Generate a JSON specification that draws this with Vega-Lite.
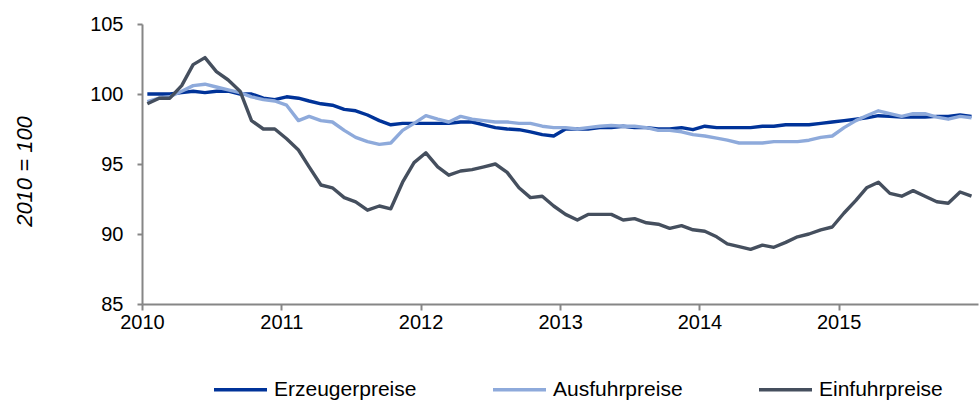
{
"$schema": "https://vega.github.io/schema/vega-lite/v6.json",
"width": 836, "height": 280,
"autosize": {"type": "none"},
"padding": {"left": 142, "top": 24, "right": 1, "bottom": 96},
"background": "white",
"config": {"view": {"stroke": null}, "font": "Liberation Sans"},
"datasets": {
"src": [
{"date":"2010-01-15","series":"Erzeugerpreise","value":100.0},{"date":"2010-02-15","series":"Erzeugerpreise","value":100.0},{"date":"2010-03-15","series":"Erzeugerpreise","value":100.0},{"date":"2010-04-15","series":"Erzeugerpreise","value":100.1},{"date":"2010-05-15","series":"Erzeugerpreise","value":100.2},{"date":"2010-06-15","series":"Erzeugerpreise","value":100.1},{"date":"2010-07-15","series":"Erzeugerpreise","value":100.2},{"date":"2010-08-15","series":"Erzeugerpreise","value":100.2},{"date":"2010-09-15","series":"Erzeugerpreise","value":100.0},{"date":"2010-10-15","series":"Erzeugerpreise","value":100.0},{"date":"2010-11-15","series":"Erzeugerpreise","value":99.7},{"date":"2010-12-15","series":"Erzeugerpreise","value":99.6},
{"date":"2011-01-15","series":"Erzeugerpreise","value":99.8},{"date":"2011-02-15","series":"Erzeugerpreise","value":99.7},{"date":"2011-03-15","series":"Erzeugerpreise","value":99.5},{"date":"2011-04-15","series":"Erzeugerpreise","value":99.3},{"date":"2011-05-15","series":"Erzeugerpreise","value":99.2},{"date":"2011-06-15","series":"Erzeugerpreise","value":98.9},{"date":"2011-07-15","series":"Erzeugerpreise","value":98.8},{"date":"2011-08-15","series":"Erzeugerpreise","value":98.5},{"date":"2011-09-15","series":"Erzeugerpreise","value":98.1},{"date":"2011-10-15","series":"Erzeugerpreise","value":97.8},{"date":"2011-11-15","series":"Erzeugerpreise","value":97.9},{"date":"2011-12-15","series":"Erzeugerpreise","value":97.9},
{"date":"2012-01-15","series":"Erzeugerpreise","value":97.9},{"date":"2012-02-15","series":"Erzeugerpreise","value":97.9},{"date":"2012-03-15","series":"Erzeugerpreise","value":97.9},{"date":"2012-04-15","series":"Erzeugerpreise","value":98.0},{"date":"2012-05-15","series":"Erzeugerpreise","value":98.0},{"date":"2012-06-15","series":"Erzeugerpreise","value":97.8},{"date":"2012-07-15","series":"Erzeugerpreise","value":97.6},{"date":"2012-08-15","series":"Erzeugerpreise","value":97.5},{"date":"2012-09-15","series":"Erzeugerpreise","value":97.45},{"date":"2012-10-15","series":"Erzeugerpreise","value":97.3},{"date":"2012-11-15","series":"Erzeugerpreise","value":97.1},{"date":"2012-12-15","series":"Erzeugerpreise","value":97.0},
{"date":"2013-01-15","series":"Erzeugerpreise","value":97.5},{"date":"2013-02-15","series":"Erzeugerpreise","value":97.5},{"date":"2013-03-15","series":"Erzeugerpreise","value":97.5},{"date":"2013-04-15","series":"Erzeugerpreise","value":97.6},{"date":"2013-05-15","series":"Erzeugerpreise","value":97.6},{"date":"2013-06-15","series":"Erzeugerpreise","value":97.7},{"date":"2013-07-15","series":"Erzeugerpreise","value":97.6},{"date":"2013-08-15","series":"Erzeugerpreise","value":97.6},{"date":"2013-09-15","series":"Erzeugerpreise","value":97.5},{"date":"2013-10-15","series":"Erzeugerpreise","value":97.5},{"date":"2013-11-15","series":"Erzeugerpreise","value":97.6},{"date":"2013-12-15","series":"Erzeugerpreise","value":97.45},
{"date":"2014-01-15","series":"Erzeugerpreise","value":97.7},{"date":"2014-02-15","series":"Erzeugerpreise","value":97.6},{"date":"2014-03-15","series":"Erzeugerpreise","value":97.6},{"date":"2014-04-15","series":"Erzeugerpreise","value":97.6},{"date":"2014-05-15","series":"Erzeugerpreise","value":97.6},{"date":"2014-06-15","series":"Erzeugerpreise","value":97.7},{"date":"2014-07-15","series":"Erzeugerpreise","value":97.7},{"date":"2014-08-15","series":"Erzeugerpreise","value":97.8},{"date":"2014-09-15","series":"Erzeugerpreise","value":97.8},{"date":"2014-10-15","series":"Erzeugerpreise","value":97.8},{"date":"2014-11-15","series":"Erzeugerpreise","value":97.9},{"date":"2014-12-15","series":"Erzeugerpreise","value":98.0},
{"date":"2015-01-15","series":"Erzeugerpreise","value":98.1},{"date":"2015-02-15","series":"Erzeugerpreise","value":98.2},{"date":"2015-03-15","series":"Erzeugerpreise","value":98.3},{"date":"2015-04-15","series":"Erzeugerpreise","value":98.45},{"date":"2015-05-15","series":"Erzeugerpreise","value":98.4},{"date":"2015-06-15","series":"Erzeugerpreise","value":98.35},{"date":"2015-07-15","series":"Erzeugerpreise","value":98.35},{"date":"2015-08-15","series":"Erzeugerpreise","value":98.35},{"date":"2015-09-15","series":"Erzeugerpreise","value":98.4},{"date":"2015-10-15","series":"Erzeugerpreise","value":98.4},{"date":"2015-11-15","series":"Erzeugerpreise","value":98.5},{"date":"2015-12-15","series":"Erzeugerpreise","value":98.4},

{"date":"2010-01-15","series":"Ausfuhrpreise","value":99.45},{"date":"2010-02-15","series":"Ausfuhrpreise","value":99.7},{"date":"2010-03-15","series":"Ausfuhrpreise","value":99.8},{"date":"2010-04-15","series":"Ausfuhrpreise","value":100.2},{"date":"2010-05-15","series":"Ausfuhrpreise","value":100.6},{"date":"2010-06-15","series":"Ausfuhrpreise","value":100.7},{"date":"2010-07-15","series":"Ausfuhrpreise","value":100.5},{"date":"2010-08-15","series":"Ausfuhrpreise","value":100.3},{"date":"2010-09-15","series":"Ausfuhrpreise","value":100.1},{"date":"2010-10-15","series":"Ausfuhrpreise","value":99.8},{"date":"2010-11-15","series":"Ausfuhrpreise","value":99.6},{"date":"2010-12-15","series":"Ausfuhrpreise","value":99.5},
{"date":"2011-01-15","series":"Ausfuhrpreise","value":99.2},{"date":"2011-02-15","series":"Ausfuhrpreise","value":98.1},{"date":"2011-03-15","series":"Ausfuhrpreise","value":98.4},{"date":"2011-04-15","series":"Ausfuhrpreise","value":98.1},{"date":"2011-05-15","series":"Ausfuhrpreise","value":98.0},{"date":"2011-06-15","series":"Ausfuhrpreise","value":97.4},{"date":"2011-07-15","series":"Ausfuhrpreise","value":96.9},{"date":"2011-08-15","series":"Ausfuhrpreise","value":96.6},{"date":"2011-09-15","series":"Ausfuhrpreise","value":96.4},{"date":"2011-10-15","series":"Ausfuhrpreise","value":96.5},{"date":"2011-11-15","series":"Ausfuhrpreise","value":97.4},{"date":"2011-12-15","series":"Ausfuhrpreise","value":97.9},
{"date":"2012-01-15","series":"Ausfuhrpreise","value":98.45},{"date":"2012-02-15","series":"Ausfuhrpreise","value":98.2},{"date":"2012-03-15","series":"Ausfuhrpreise","value":98.0},{"date":"2012-04-15","series":"Ausfuhrpreise","value":98.4},{"date":"2012-05-15","series":"Ausfuhrpreise","value":98.2},{"date":"2012-06-15","series":"Ausfuhrpreise","value":98.1},{"date":"2012-07-15","series":"Ausfuhrpreise","value":98.0},{"date":"2012-08-15","series":"Ausfuhrpreise","value":98.0},{"date":"2012-09-15","series":"Ausfuhrpreise","value":97.9},{"date":"2012-10-15","series":"Ausfuhrpreise","value":97.9},{"date":"2012-11-15","series":"Ausfuhrpreise","value":97.7},{"date":"2012-12-15","series":"Ausfuhrpreise","value":97.6},
{"date":"2013-01-15","series":"Ausfuhrpreise","value":97.6},{"date":"2013-02-15","series":"Ausfuhrpreise","value":97.5},{"date":"2013-03-15","series":"Ausfuhrpreise","value":97.6},{"date":"2013-04-15","series":"Ausfuhrpreise","value":97.7},{"date":"2013-05-15","series":"Ausfuhrpreise","value":97.75},{"date":"2013-06-15","series":"Ausfuhrpreise","value":97.7},{"date":"2013-07-15","series":"Ausfuhrpreise","value":97.7},{"date":"2013-08-15","series":"Ausfuhrpreise","value":97.6},{"date":"2013-09-15","series":"Ausfuhrpreise","value":97.4},{"date":"2013-10-15","series":"Ausfuhrpreise","value":97.4},{"date":"2013-11-15","series":"Ausfuhrpreise","value":97.3},{"date":"2013-12-15","series":"Ausfuhrpreise","value":97.1},
{"date":"2014-01-15","series":"Ausfuhrpreise","value":97.0},{"date":"2014-02-15","series":"Ausfuhrpreise","value":96.85},{"date":"2014-03-15","series":"Ausfuhrpreise","value":96.7},{"date":"2014-04-15","series":"Ausfuhrpreise","value":96.5},{"date":"2014-05-15","series":"Ausfuhrpreise","value":96.5},{"date":"2014-06-15","series":"Ausfuhrpreise","value":96.5},{"date":"2014-07-15","series":"Ausfuhrpreise","value":96.6},{"date":"2014-08-15","series":"Ausfuhrpreise","value":96.6},{"date":"2014-09-15","series":"Ausfuhrpreise","value":96.6},{"date":"2014-10-15","series":"Ausfuhrpreise","value":96.7},{"date":"2014-11-15","series":"Ausfuhrpreise","value":96.9},{"date":"2014-12-15","series":"Ausfuhrpreise","value":97.0},
{"date":"2015-01-15","series":"Ausfuhrpreise","value":97.6},{"date":"2015-02-15","series":"Ausfuhrpreise","value":98.1},{"date":"2015-03-15","series":"Ausfuhrpreise","value":98.45},{"date":"2015-04-15","series":"Ausfuhrpreise","value":98.8},{"date":"2015-05-15","series":"Ausfuhrpreise","value":98.6},{"date":"2015-06-15","series":"Ausfuhrpreise","value":98.4},{"date":"2015-07-15","series":"Ausfuhrpreise","value":98.6},{"date":"2015-08-15","series":"Ausfuhrpreise","value":98.6},{"date":"2015-09-15","series":"Ausfuhrpreise","value":98.35},{"date":"2015-10-15","series":"Ausfuhrpreise","value":98.2},{"date":"2015-11-15","series":"Ausfuhrpreise","value":98.4},{"date":"2015-12-15","series":"Ausfuhrpreise","value":98.3},

{"date":"2010-01-15","series":"Einfuhrpreise","value":99.3},{"date":"2010-02-15","series":"Einfuhrpreise","value":99.7},{"date":"2010-03-15","series":"Einfuhrpreise","value":99.7},{"date":"2010-04-15","series":"Einfuhrpreise","value":100.6},{"date":"2010-05-15","series":"Einfuhrpreise","value":102.1},{"date":"2010-06-15","series":"Einfuhrpreise","value":102.6},{"date":"2010-07-15","series":"Einfuhrpreise","value":101.6},{"date":"2010-08-15","series":"Einfuhrpreise","value":101.0},{"date":"2010-09-15","series":"Einfuhrpreise","value":100.2},{"date":"2010-10-15","series":"Einfuhrpreise","value":98.1},{"date":"2010-11-15","series":"Einfuhrpreise","value":97.5},{"date":"2010-12-15","series":"Einfuhrpreise","value":97.5},
{"date":"2011-01-15","series":"Einfuhrpreise","value":96.8},{"date":"2011-02-15","series":"Einfuhrpreise","value":96.0},{"date":"2011-03-15","series":"Einfuhrpreise","value":94.8},{"date":"2011-04-15","series":"Einfuhrpreise","value":93.5},{"date":"2011-05-15","series":"Einfuhrpreise","value":93.3},{"date":"2011-06-15","series":"Einfuhrpreise","value":92.6},{"date":"2011-07-15","series":"Einfuhrpreise","value":92.3},{"date":"2011-08-15","series":"Einfuhrpreise","value":91.7},{"date":"2011-09-15","series":"Einfuhrpreise","value":92.0},{"date":"2011-10-15","series":"Einfuhrpreise","value":91.8},{"date":"2011-11-15","series":"Einfuhrpreise","value":93.7},{"date":"2011-12-15","series":"Einfuhrpreise","value":95.1},
{"date":"2012-01-15","series":"Einfuhrpreise","value":95.8},{"date":"2012-02-15","series":"Einfuhrpreise","value":94.8},{"date":"2012-03-15","series":"Einfuhrpreise","value":94.2},{"date":"2012-04-15","series":"Einfuhrpreise","value":94.5},{"date":"2012-05-15","series":"Einfuhrpreise","value":94.6},{"date":"2012-06-15","series":"Einfuhrpreise","value":94.8},{"date":"2012-07-15","series":"Einfuhrpreise","value":95.0},{"date":"2012-08-15","series":"Einfuhrpreise","value":94.4},{"date":"2012-09-15","series":"Einfuhrpreise","value":93.3},{"date":"2012-10-15","series":"Einfuhrpreise","value":92.6},{"date":"2012-11-15","series":"Einfuhrpreise","value":92.7},{"date":"2012-12-15","series":"Einfuhrpreise","value":92.0},
{"date":"2013-01-15","series":"Einfuhrpreise","value":91.4},{"date":"2013-02-15","series":"Einfuhrpreise","value":91.0},{"date":"2013-03-15","series":"Einfuhrpreise","value":91.4},{"date":"2013-04-15","series":"Einfuhrpreise","value":91.4},{"date":"2013-05-15","series":"Einfuhrpreise","value":91.4},{"date":"2013-06-15","series":"Einfuhrpreise","value":91.0},{"date":"2013-07-15","series":"Einfuhrpreise","value":91.1},{"date":"2013-08-15","series":"Einfuhrpreise","value":90.8},{"date":"2013-09-15","series":"Einfuhrpreise","value":90.7},{"date":"2013-10-15","series":"Einfuhrpreise","value":90.4},{"date":"2013-11-15","series":"Einfuhrpreise","value":90.6},{"date":"2013-12-15","series":"Einfuhrpreise","value":90.3},
{"date":"2014-01-15","series":"Einfuhrpreise","value":90.2},{"date":"2014-02-15","series":"Einfuhrpreise","value":89.8},{"date":"2014-03-15","series":"Einfuhrpreise","value":89.3},{"date":"2014-04-15","series":"Einfuhrpreise","value":89.1},{"date":"2014-05-15","series":"Einfuhrpreise","value":88.9},{"date":"2014-06-15","series":"Einfuhrpreise","value":89.2},{"date":"2014-07-15","series":"Einfuhrpreise","value":89.05},{"date":"2014-08-15","series":"Einfuhrpreise","value":89.4},{"date":"2014-09-15","series":"Einfuhrpreise","value":89.8},{"date":"2014-10-15","series":"Einfuhrpreise","value":90.0},{"date":"2014-11-15","series":"Einfuhrpreise","value":90.3},{"date":"2014-12-15","series":"Einfuhrpreise","value":90.5},
{"date":"2015-01-15","series":"Einfuhrpreise","value":91.5},{"date":"2015-02-15","series":"Einfuhrpreise","value":92.4},{"date":"2015-03-15","series":"Einfuhrpreise","value":93.3},{"date":"2015-04-15","series":"Einfuhrpreise","value":93.7},{"date":"2015-05-15","series":"Einfuhrpreise","value":92.9},{"date":"2015-06-15","series":"Einfuhrpreise","value":92.7},{"date":"2015-07-15","series":"Einfuhrpreise","value":93.1},{"date":"2015-08-15","series":"Einfuhrpreise","value":92.7},{"date":"2015-09-15","series":"Einfuhrpreise","value":92.3},{"date":"2015-10-15","series":"Einfuhrpreise","value":92.2},{"date":"2015-11-15","series":"Einfuhrpreise","value":93.0},{"date":"2015-12-15","series":"Einfuhrpreise","value":92.7}
]
},
"data": {"name": "src"},
"mark": {"type": "line", "strokeWidth": 3.4, "strokeJoin": "round"},
"encoding": {
  "x": {
    "field": "date", "type": "temporal",
    "scale": {"type": "utc", "domain": [{"year": 2010, "month": 1, "date": 1, "utc": true}, {"year": 2016, "month": 1, "date": 1, "utc": true}]},
    "axis": {
      "title": null, "format": "%Y", "grid": false,
      "values": [{"year": 2010, "month": 1, "date": 1, "utc": true}, {"year": 2011, "month": 1, "date": 1, "utc": true}, {"year": 2012, "month": 1, "date": 1, "utc": true}, {"year": 2013, "month": 1, "date": 1, "utc": true}, {"year": 2014, "month": 1, "date": 1, "utc": true}, {"year": 2015, "month": 1, "date": 1, "utc": true}],
      "domainColor": "#868686", "domainWidth": 2, "tickColor": "#868686", "tickWidth": 2, "tickSize": 6,
      "labelFont": "Liberation Sans", "labelFontSize": 20, "labelColor": "#000000", "labelPadding": 2, "labelFlush": false, "labelOverlap": false
    }
  },
  "y": {
    "field": "value", "type": "quantitative",
    "scale": {"domain": [85, 105], "zero": false, "nice": false},
    "axis": {
      "title": "2010 = 100", "titleFont": "Liberation Sans", "titleFontStyle": "italic", "titleFontWeight": "normal", "titleFontSize": 22, "titleColor": "#000000",
      "titleX": -118, "titleY": 147, "titleAngle": -90, "titleAlign": "center", "titleBaseline": "middle",
      "values": [85, 90, 95, 100, 105], "grid": false,
      "domainColor": "#868686", "domainWidth": 2, "tickColor": "#868686", "tickWidth": 2, "tickSize": 5,
      "labelFont": "Liberation Sans", "labelFontSize": 20, "labelColor": "#000000", "labelPadding": 14
    }
  },
  "color": {
    "field": "series", "type": "nominal",
    "scale": {"domain": ["Erzeugerpreise", "Ausfuhrpreise", "Einfuhrpreise"], "range": ["#003399", "#8EAADB", "#454F5E"]},
    "legend": {
      "title": null, "orient": "none", "legendX": 70, "legendY": 337, "direction": "horizontal",
      "symbolType": "stroke", "symbolSize": 2809, "symbolStrokeWidth": 3.5,
      "labelFont": "Liberation Sans", "labelFontSize": 21, "labelColor": "#000000", "labelOffset": 5, "columnPadding": 69
    }
  }
}
}
